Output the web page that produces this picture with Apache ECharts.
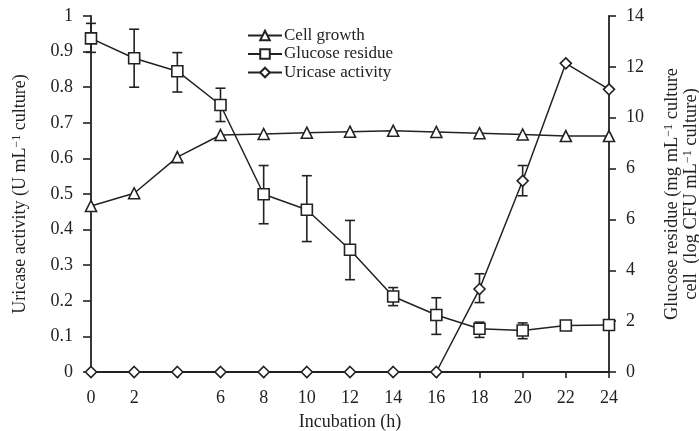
<!DOCTYPE html>
<html>
<head>
<meta charset="utf-8">
<script src="https://cdn.jsdelivr.net/npm/echarts@6/dist/echarts.min.js"></script>
<style>
html,body{margin:0;padding:0;background:#fff;}
#chart{width:699px;height:431px;}
</style>
</head>
<body>
<div id="chart"></div>
<script>
const hours = [0, 2, 4, 6, 8, 10, 12, 14, 16, 18, 20, 22, 24];
const xTickLabels = ['0', '2', '', '6', '8', '10', '12', '14', '16', '18', '20', '22', '24'];
const rightTickLabels = ['0', '2', '4', '6', '6', '10', '12', '14'];

const cellGrowth = [6.53, 7.03, 8.45, 9.32, 9.36, 9.41, 9.45, 9.49, 9.44, 9.39, 9.34, 9.28, 9.28];
const glucose = [13.12, 12.34, 11.83, 10.50, 6.99, 6.38, 4.81, 2.97, 2.24, 1.70, 1.63, 1.83, 1.85];
const glucoseLow = [12.57, 11.20, 11.01, 9.85, 5.83, 5.13, 3.63, 2.61, 1.48, 1.36, 1.31, null, null];
const glucoseHigh = [13.71, 13.48, 12.56, 11.16, 8.12, 7.72, 5.96, 3.32, 2.92, 1.96, 1.93, null, null];
const uricase = [0, 0, 0, 0, 0, 0, 0, 0, 0, 0.233, 0.537, 0.867, 0.794];
const uricaseLow = [null, null, null, null, null, null, null, null, null, 0.195, 0.495, null, null];
const uricaseHigh = [null, null, null, null, null, null, null, null, null, 0.276, 0.580, null, null];

const INK = '#222';
const FONT = 'Liberation Serif';

function pairs(ys) { return hours.map((h, i) => [h, ys[i]]); }
function errData(lo, hi) {
  const out = [];
  hours.forEach((h, i) => { if (lo[i] != null && hi[i] != null) out.push([h, lo[i], hi[i]]); });
  return out;
}
function errRender(params, api) {
  const x = api.value(0);
  const p1 = api.coord([x, api.value(1)]);
  const p2 = api.coord([x, api.value(2)]);
  const w = 5;
  const st = { stroke: INK, lineWidth: 1.6 };
  return {
    type: 'group',
    children: [
      { type: 'line', shape: { x1: p1[0], y1: p1[1], x2: p2[0], y2: p2[1] }, style: st },
      { type: 'line', shape: { x1: p1[0] - w, y1: p1[1], x2: p1[0] + w, y2: p1[1] }, style: st },
      { type: 'line', shape: { x1: p2[0] - w, y1: p2[1], x2: p2[0] + w, y2: p2[1] }, style: st }
    ]
  };
}

const sup = { fontSize: 12, verticalAlign: 'top', fontFamily: FONT, color: INK };
const axisCommon = {
  axisLine: { show: true, lineStyle: { color: INK, width: 1.8 } },
  axisTick: { show: true, inside: false, length: 7, lineStyle: { color: INK, width: 1.6 } },
  splitLine: { show: false },
  axisLabel: { fontFamily: FONT, fontSize: 18, color: INK, margin: 16 }
};

const chart = echarts.init(document.getElementById('chart'), null, { renderer: 'canvas' });
chart.setOption({
  animation: false,
  backgroundColor: '#fff',
  textStyle: { fontFamily: FONT, color: INK },
  grid: { left: 91, right: 90, top: 16, bottom: 59, containLabel: false, outerBoundsMode: 'none' },
  legend: {
    orient: 'vertical',
    left: 242,
    top: 22,
    itemWidth: 34,
    itemHeight: 12,
    itemGap: 1.5,
    textStyle: { fontFamily: FONT, fontSize: 17, lineHeight: 17, color: INK, padding: [0, 0, 0, -3] },
    data: ['Cell growth', 'Glucose residue', 'Uricase activity']
  },
  xAxis: Object.assign({}, axisCommon, {
    type: 'value', min: 0, max: 24, interval: 2,
    name: 'Incubation (h)', nameLocation: 'middle', nameGap: 41,
    nameTextStyle: { fontFamily: FONT, fontSize: 18, color: INK },
    axisTick: { show: true, inside: false, length: 6, lineStyle: { color: INK, width: 1.6 } },
    axisLabel: { fontFamily: FONT, fontSize: 18, color: INK, margin: 17,
      formatter: v => xTickLabels[Math.round(v / 2)] }
  }),
  yAxis: [
    Object.assign({}, axisCommon, {
      type: 'value', position: 'left', min: 0, max: 1, interval: 0.1,
      name: 'Uricase activity (U mL{sup|−1} culture)', nameLocation: 'middle', nameGap: 62, nameRotate: 90,
      nameTextStyle: { fontFamily: FONT, fontSize: 18, color: INK, rich: { sup: sup } },
      axisTick: { show: true, inside: false, length: 8, lineStyle: { color: INK, width: 1.6 } },
      axisLabel: { fontFamily: FONT, fontSize: 18, color: INK, margin: 18,
        formatter: v => String(Math.round(v * 10) / 10) }
    }),
    Object.assign({}, axisCommon, {
      type: 'value', position: 'right', min: 0, max: 14, interval: 2,
      name: 'Glucose residue (mg mL{sup|−1} culture\ncell  (log CFU mL{sup|−1} culture)',
      nameLocation: 'middle', nameGap: 54, nameRotate: 90,
      nameTextStyle: { fontFamily: FONT, fontSize: 18.5, color: INK, lineHeight: 19, rich: { sup: sup } },
      axisLabel: { fontFamily: FONT, fontSize: 18, color: INK, margin: 17,
        formatter: v => rightTickLabels[Math.round(v / 2)] }
    })
  ],
  series: [
    {
      type: 'custom', name: 'glucoseErr', yAxisIndex: 1, z: 1,
      renderItem: errRender, data: errData(glucoseLow, glucoseHigh),
      encode: { x: 0, y: [1, 2] }, silent: true
    },
    {
      type: 'custom', name: 'uricaseErr', yAxisIndex: 0, z: 1,
      renderItem: errRender, data: errData(uricaseLow, uricaseHigh),
      encode: { x: 0, y: [1, 2] }, silent: true
    },
    {
      name: 'Cell growth', type: 'line', yAxisIndex: 1, z: 3,
      data: pairs(cellGrowth), symbol: 'triangle', symbolSize: 11, showAllSymbol: true,
      lineStyle: { color: INK, width: 1.5 },
      itemStyle: { color: '#fff', borderColor: INK, borderWidth: 1.6 }
    },
    {
      name: 'Glucose residue', type: 'line', yAxisIndex: 1, z: 3,
      data: pairs(glucose), symbol: 'rect', symbolSize: 11, showAllSymbol: true,
      lineStyle: { color: INK, width: 1.5 },
      itemStyle: { color: '#fff', borderColor: INK, borderWidth: 1.6 }
    },
    {
      name: 'Uricase activity', type: 'line', yAxisIndex: 0, z: 3,
      data: pairs(uricase), symbol: 'diamond', symbolSize: 11, showAllSymbol: true,
      lineStyle: { color: INK, width: 1.5 },
      itemStyle: { color: '#fff', borderColor: INK, borderWidth: 1.6 }
    }
  ]
});
</script>
</body>
</html>
